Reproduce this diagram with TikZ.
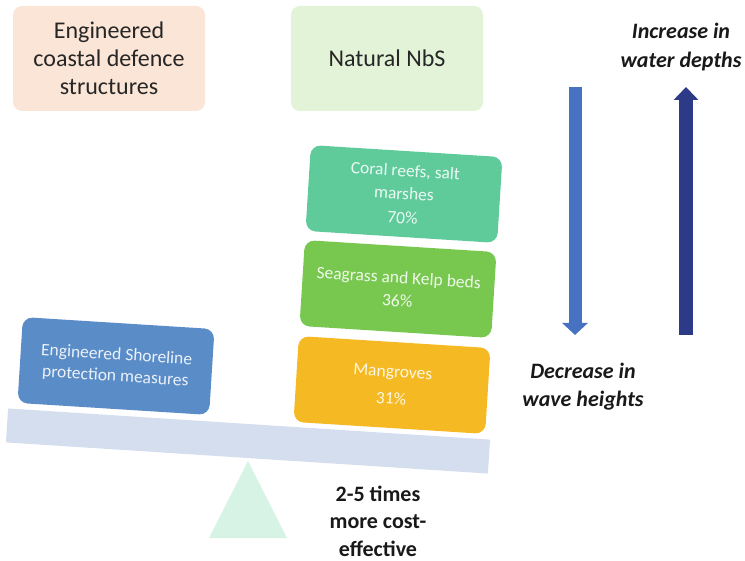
\documentclass[tikz,border=0pt]{standalone}
\usepackage{fontspec}
\setmainfont{Carlito}
\usetikzlibrary{arrows.meta}
\definecolor{peach}{HTML}{FBE5D6}
\definecolor{paleg}{HTML}{E3F3D8}
\definecolor{coral}{HTML}{5FCB9B}
\definecolor{seag}{HTML}{78C850}
\definecolor{mang}{HTML}{F4B923}
\definecolor{engb}{HTML}{5A8CC8}
\definecolor{beamc}{HTML}{D5DEEE}
\definecolor{tric}{HTML}{D6F3E6}
\definecolor{arrb}{HTML}{4672C1}
\definecolor{arrn}{HTML}{2D3A87}
\begin{document}
\begin{tikzpicture}[x=1pt,y=-1pt,
  header/.style={rounded corners=9pt, minimum width=192pt, minimum height=105pt,
    align=center, inner sep=0pt, text=black!85, font=\fontsize{24}{28}\selectfont},
  sbox/.style={rounded corners=10pt, minimum width=192pt, minimum height=86pt,
    rotate=-3.6, align=center, inner sep=0pt, text=white, text opacity=0.88,
    font=\fontsize{17.5}{23}\selectfont},
  note/.style={align=center, inner sep=0pt, text=black!90}
]
\useasboundingbox (0,0) rectangle (745,561);

% headers
\node[header, fill=peach] (hdeng) at (109,58.5) {Engineered\\coastal defence\\structures};
\node[header, fill=paleg] (hdnat) at (387,58.5) {Natural NbS};

% beam and fulcrum
\node[rotate=-3.7, minimum width=483pt, minimum height=34pt, inner sep=0pt, fill=beamc] (beam) at (248,441) {};
\fill[tric] (248,461) -- (287,538) -- (209,538) -- cycle;

% stacked boxes
\node[sbox, fill=coral] (coral) at (404,194) {Coral reefs, salt\\marshes\\[1pt]70\%};
\node[sbox, fill=seag] (seag) at (398,289) {Seagrass and Kelp beds\\36\%};
\node[sbox, fill=mang] (mang) at (392,385) {Mangroves\\[4pt]31\%};
\node[sbox, fill=engb, font=\fontsize{17.5}{21.5}\selectfont] (eng) at (116,366) {Engineered Shoreline\\protection measures};

% texts
\node[note, font=\bfseries\fontsize{22}{27.5}\selectfont] (cost) at (378,521) {2-5 times\\more cost-\\effective};
\node[note, font=\bfseries\itshape\fontsize{22}{28.5}\selectfont] (incr) at (681,47) {Increase in\\water depths};
\node[note, font=\bfseries\itshape\fontsize{22}{28}\selectfont] (decr) at (583,387) {Decrease in\\wave heights};

% arrows
\coordinate (dtop) at (575,87);
\coordinate (dbot) at (575,335);
\coordinate (utop) at (686,87);
\coordinate (ubot) at (686,335);
\draw[arrb, line width=13pt, -{Triangle[width=25pt,length=12pt]}] (dtop) -- (dbot);
\draw[arrn, line width=14pt, -{Triangle[width=24pt,length=13pt]}] (ubot) -- (utop);
\end{tikzpicture}
\end{document}
